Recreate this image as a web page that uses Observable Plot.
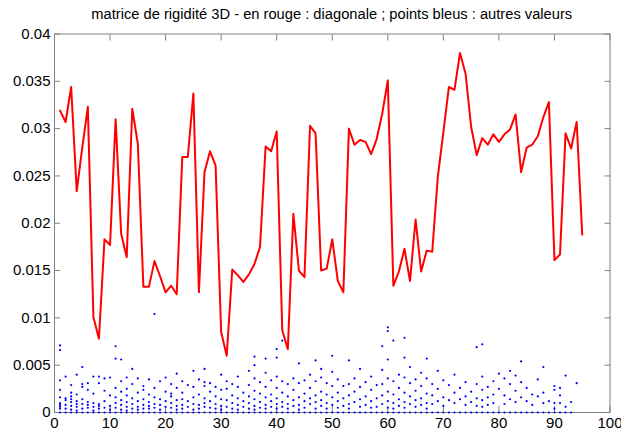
<!DOCTYPE html>
<html>
<head>
<meta charset="utf-8">
<script src="https://cdn.jsdelivr.net/npm/d3@7"></script>
<script src="https://cdn.jsdelivr.net/npm/@observablehq/plot@0.6"></script>
<style>
  body { margin: 0; background: #fff; }
  #titre {
    height: 26px; line-height: 26px; padding-top: 6px; box-sizing: border-box; overflow: visible;
    padding-left: 54px; padding-right: 11.5px; text-align: center;
    font: 14.7px "Liberation Sans", Arial, sans-serif; color: #000; white-space: nowrap;
  }
  svg { display: block; }
</style>
</head>
<body>
<div id="titre">matrice de rigidité 3D - en rouge : diagonale ; points bleus : autres valeurs</div>
<div id="chart"></div>
<script>
// Diagonale de la matrice de rigidité (indices 1..95)
const diagonale = [
  0.0319, 0.0307, 0.0344, 0.0234, 0.0280, 0.0323, 0.0101, 0.0078, 0.0183, 0.0177,
  0.0310, 0.0189, 0.0164, 0.0321, 0.0284, 0.0133, 0.0133, 0.0160, 0.0144, 0.0127,
  0.0134, 0.0125, 0.0270, 0.0270, 0.0337, 0.0127, 0.0254, 0.0276, 0.0261, 0.0085,
  0.0060, 0.0151, 0.0145, 0.0138, 0.0146, 0.0157, 0.0175, 0.0281, 0.0276, 0.0297,
  0.0087, 0.0067, 0.0210, 0.0150, 0.0143, 0.0303, 0.0295, 0.0150, 0.0152, 0.0183,
  0.0139, 0.0127, 0.0300, 0.0283, 0.0288, 0.0286, 0.0273, 0.0289, 0.0316, 0.0351,
  0.0134, 0.0149, 0.0173, 0.0139, 0.0204, 0.0149, 0.0171, 0.0170, 0.0249, 0.0296,
  0.0344, 0.0341, 0.0380, 0.0358, 0.0302, 0.0272, 0.0290, 0.0283, 0.0294, 0.0286,
  0.0294, 0.0299, 0.0315, 0.0254, 0.0280, 0.0283, 0.0292, 0.0312, 0.0328, 0.0161,
  0.0167, 0.0295, 0.0279, 0.0307, 0.0188
];

// Autres coefficients non nuls de chaque colonne (colonne 1 en premier)
const autresValeurs = [
  [0.0071, 0.0066, 0.0034, 0.0024, 0.0016, 0.0010, 0.0008, 0.0006, 0.0004],
  [0.0038, 0.0015, 0.0013, 0.0008, 0.0004],
  [0.0029, 0.0021, 0.0017, 0.0014, 0.0011, 0.0007, 0.0003],
  [0.0040, 0.0019, 0.0012, 0.0009, 0.0006, 0.0002],
  [0.0048, 0.0030, 0.0027, 0.0014, 0.0009, 0.0004],
  [0.0031, 0.0024, 0.0011, 0.0008, 0.0005],
  [0.0038, 0.0020, 0.0010, 0.0006, 0.0002],
  [0.0038, 0.0031, 0.0009, 0.0007, 0.0004],
  [0.0036, 0.0023, 0.0012, 0.0005],
  [0.0037, 0.0018, 0.0007, 0.0003],
  [0.0070, 0.0057, 0.0026, 0.0016, 0.0010, 0.0005],
  [0.0056, 0.0033, 0.0022, 0.0013, 0.0008, 0.0003],
  [0.0037, 0.0025, 0.0018, 0.0011, 0.0006, 0.0002],
  [0.0046, 0.0030, 0.0015, 0.0009, 0.0004],
  [0.0036, 0.0021, 0.0012, 0.0006, 0.0003],
  [0.0028, 0.0024, 0.0014, 0.0008, 0.0004],
  [0.0035, 0.0019, 0.0011, 0.0007, 0.0004],
  [0.0104, 0.0026, 0.0016, 0.0009, 0.0005],
  [0.0033, 0.0014, 0.0008, 0.0003],
  [0.0037, 0.0022, 0.0012, 0.0006],
  [0.0030, 0.0020, 0.0017, 0.0010, 0.0005],
  [0.0041, 0.0026, 0.0013, 0.0007, 0.0003],
  [0.0033, 0.0021, 0.0014, 0.0008, 0.0004],
  [0.0029, 0.0012, 0.0006],
  [0.0044, 0.0027, 0.0016, 0.0009, 0.0003],
  [0.0035, 0.0019, 0.0008, 0.0004],
  [0.0046, 0.0032, 0.0028, 0.0015, 0.0010, 0.0006],
  [0.0031, 0.0022, 0.0012, 0.0005],
  [0.0027, 0.0017, 0.0009, 0.0004],
  [0.0040, 0.0024, 0.0014, 0.0007, 0.0003],
  [0.0033, 0.0025, 0.0013, 0.0006],
  [0.0030, 0.0018, 0.0010, 0.0004],
  [0.0038, 0.0027, 0.0015, 0.0008, 0.0003],
  [0.0021, 0.0012, 0.0006],
  [0.0044, 0.0029, 0.0017, 0.0010, 0.0004],
  [0.0059, 0.0050, 0.0036, 0.0023, 0.0014, 0.0007, 0.0003],
  [0.0032, 0.0020, 0.0011, 0.0005],
  [0.0057, 0.0042, 0.0027, 0.0016, 0.0008, 0.0004],
  [0.0034, 0.0019, 0.0012, 0.0006],
  [0.0067, 0.0058, 0.0038, 0.0026, 0.0015, 0.0009, 0.0004],
  [0.0076, 0.0033, 0.0021, 0.0011, 0.0006],
  [0.0030, 0.0017, 0.0009, 0.0004],
  [0.0036, 0.0024, 0.0013, 0.0007],
  [0.0052, 0.0031, 0.0016, 0.0008, 0.0003],
  [0.0034, 0.0020, 0.0012, 0.0005],
  [0.0040, 0.0026, 0.0015, 0.0009],
  [0.0055, 0.0033, 0.0018, 0.0011, 0.0004],
  [0.0046, 0.0037, 0.0022, 0.0013, 0.0007],
  [0.0031, 0.0019, 0.0010, 0.0004],
  [0.0060, 0.0043, 0.0028, 0.0016, 0.0008],
  [0.0035, 0.0021, 0.0012, 0.0005],
  [0.0028, 0.0015, 0.0007],
  [0.0055, 0.0030, 0.0018, 0.0009, 0.0004],
  [0.0036, 0.0022, 0.0011],
  [0.0046, 0.0027, 0.0014, 0.0006],
  [0.0032, 0.0017, 0.0008],
  [0.0038, 0.0024, 0.0012, 0.0005],
  [0.0029, 0.0015, 0.0006],
  [0.0070, 0.0045, 0.0030, 0.0018, 0.0009],
  [0.0090, 0.0086, 0.0056, 0.0036, 0.0022, 0.0012, 0.0005],
  [0.0076, 0.0033, 0.0019, 0.0010, 0.0004],
  [0.0040, 0.0026, 0.0014, 0.0007],
  [0.0079, 0.0058, 0.0037, 0.0021, 0.0011, 0.0005],
  [0.0048, 0.0031, 0.0017, 0.0009],
  [0.0035, 0.0023, 0.0013, 0.0006],
  [0.0042, 0.0028, 0.0015, 0.0008],
  [0.0057, 0.0036, 0.0020, 0.0010, 0.0004],
  [0.0030, 0.0018, 0.0009],
  [0.0044, 0.0025, 0.0012],
  [0.0034, 0.0016, 0.0007],
  [0.0029, 0.0013],
  [0.0040, 0.0021, 0.0010],
  [0.0026, 0.0014],
  [0.0032, 0.0017, 0.0008],
  [0.0022, 0.0011],
  [0.0069, 0.0030, 0.0015, 0.0007],
  [0.0072, 0.0038, 0.0024, 0.0013, 0.0006],
  [0.0027, 0.0016, 0.0008],
  [0.0033, 0.0019, 0.0010],
  [0.0041, 0.0025],
  [0.0036, 0.0018, 0.0009],
  [0.0044, 0.0030, 0.0014],
  [0.0039, 0.0023, 0.0011],
  [0.0054, 0.0032, 0.0016],
  [0.0026, 0.0012],
  [0.0019, 0.0008],
  [0.0035, 0.0017],
  [0.0048, 0.0021, 0.0010],
  [0.0012],
  [0.0028, 0.0024, 0.0010, 0.0004],
  [0.0026, 0.0018, 0.0010],
  [0.0039, 0.0006],
  [0.0011],
  [0.0031],
  []
];
// Colonnes ayant aussi des coefficients nuls hors diagonale (ligne du bas)
const colonnesNulles = d3.range(1, 94);

const points = [
  ...autresValeurs.flatMap((vals, i) => vals.map(v => ({col: i + 1, val: v}))),
  ...colonnesNulles.map(c => ({col: c, val: 0}))
];
const diag = diagonale.map((v, i) => ({col: i + 1, val: v}));

const xTicks = d3.range(0, 101, 10);
const yTicks = d3.range(0, 0.0401, 0.005).map(v => +v.toFixed(3));
const gris = "#808080";

const chart = Plot.plot({
  width: 621,
  height: 407,
  marginLeft: 54,
  marginRight: 11.5,
  marginTop: 7.5,
  marginBottom: 21,
  style: {fontFamily: "'Liberation Sans', Arial, sans-serif", fontSize: "15px", color: "#000", overflow: "visible"},
  x: {domain: [0, 100], label: null},
  y: {domain: [0, 0.04], label: null},
  marks: [
    Plot.frame({stroke: gris}),
    // graduations orientées vers l'intérieur, sur les quatre côtés
    Plot.axisX(xTicks, {anchor: "bottom", tickSize: -6, text: null, label: null, stroke: gris}),
    Plot.axisX(xTicks, {anchor: "top", tickSize: -6, text: null, label: null, stroke: gris}),
    Plot.axisY(yTicks, {anchor: "left", tickSize: -6, text: null, label: null, stroke: gris}),
    Plot.axisY(yTicks, {anchor: "right", tickSize: -6, text: null, label: null, stroke: gris}),
    Plot.axisX(xTicks, {anchor: "bottom", tickSize: 0, tickPadding: 5, label: null, tickFormat: d => String(d), fill: "#000", fontSize: 15}),
    Plot.axisY(yTicks, {anchor: "left", tickSize: 0, tickPadding: 4, label: null, tickFormat: d => String(d), fill: "#000", fontSize: 15}),
    Plot.dot(points, {x: "col", y: "val", r: 1.1, fill: "#0000ff", stroke: null}),
    Plot.line(diag, {x: "col", y: "val", stroke: "#ff0000", strokeWidth: 2})
  ]
});
document.getElementById("chart").append(chart);
</script>
</body>
</html>
